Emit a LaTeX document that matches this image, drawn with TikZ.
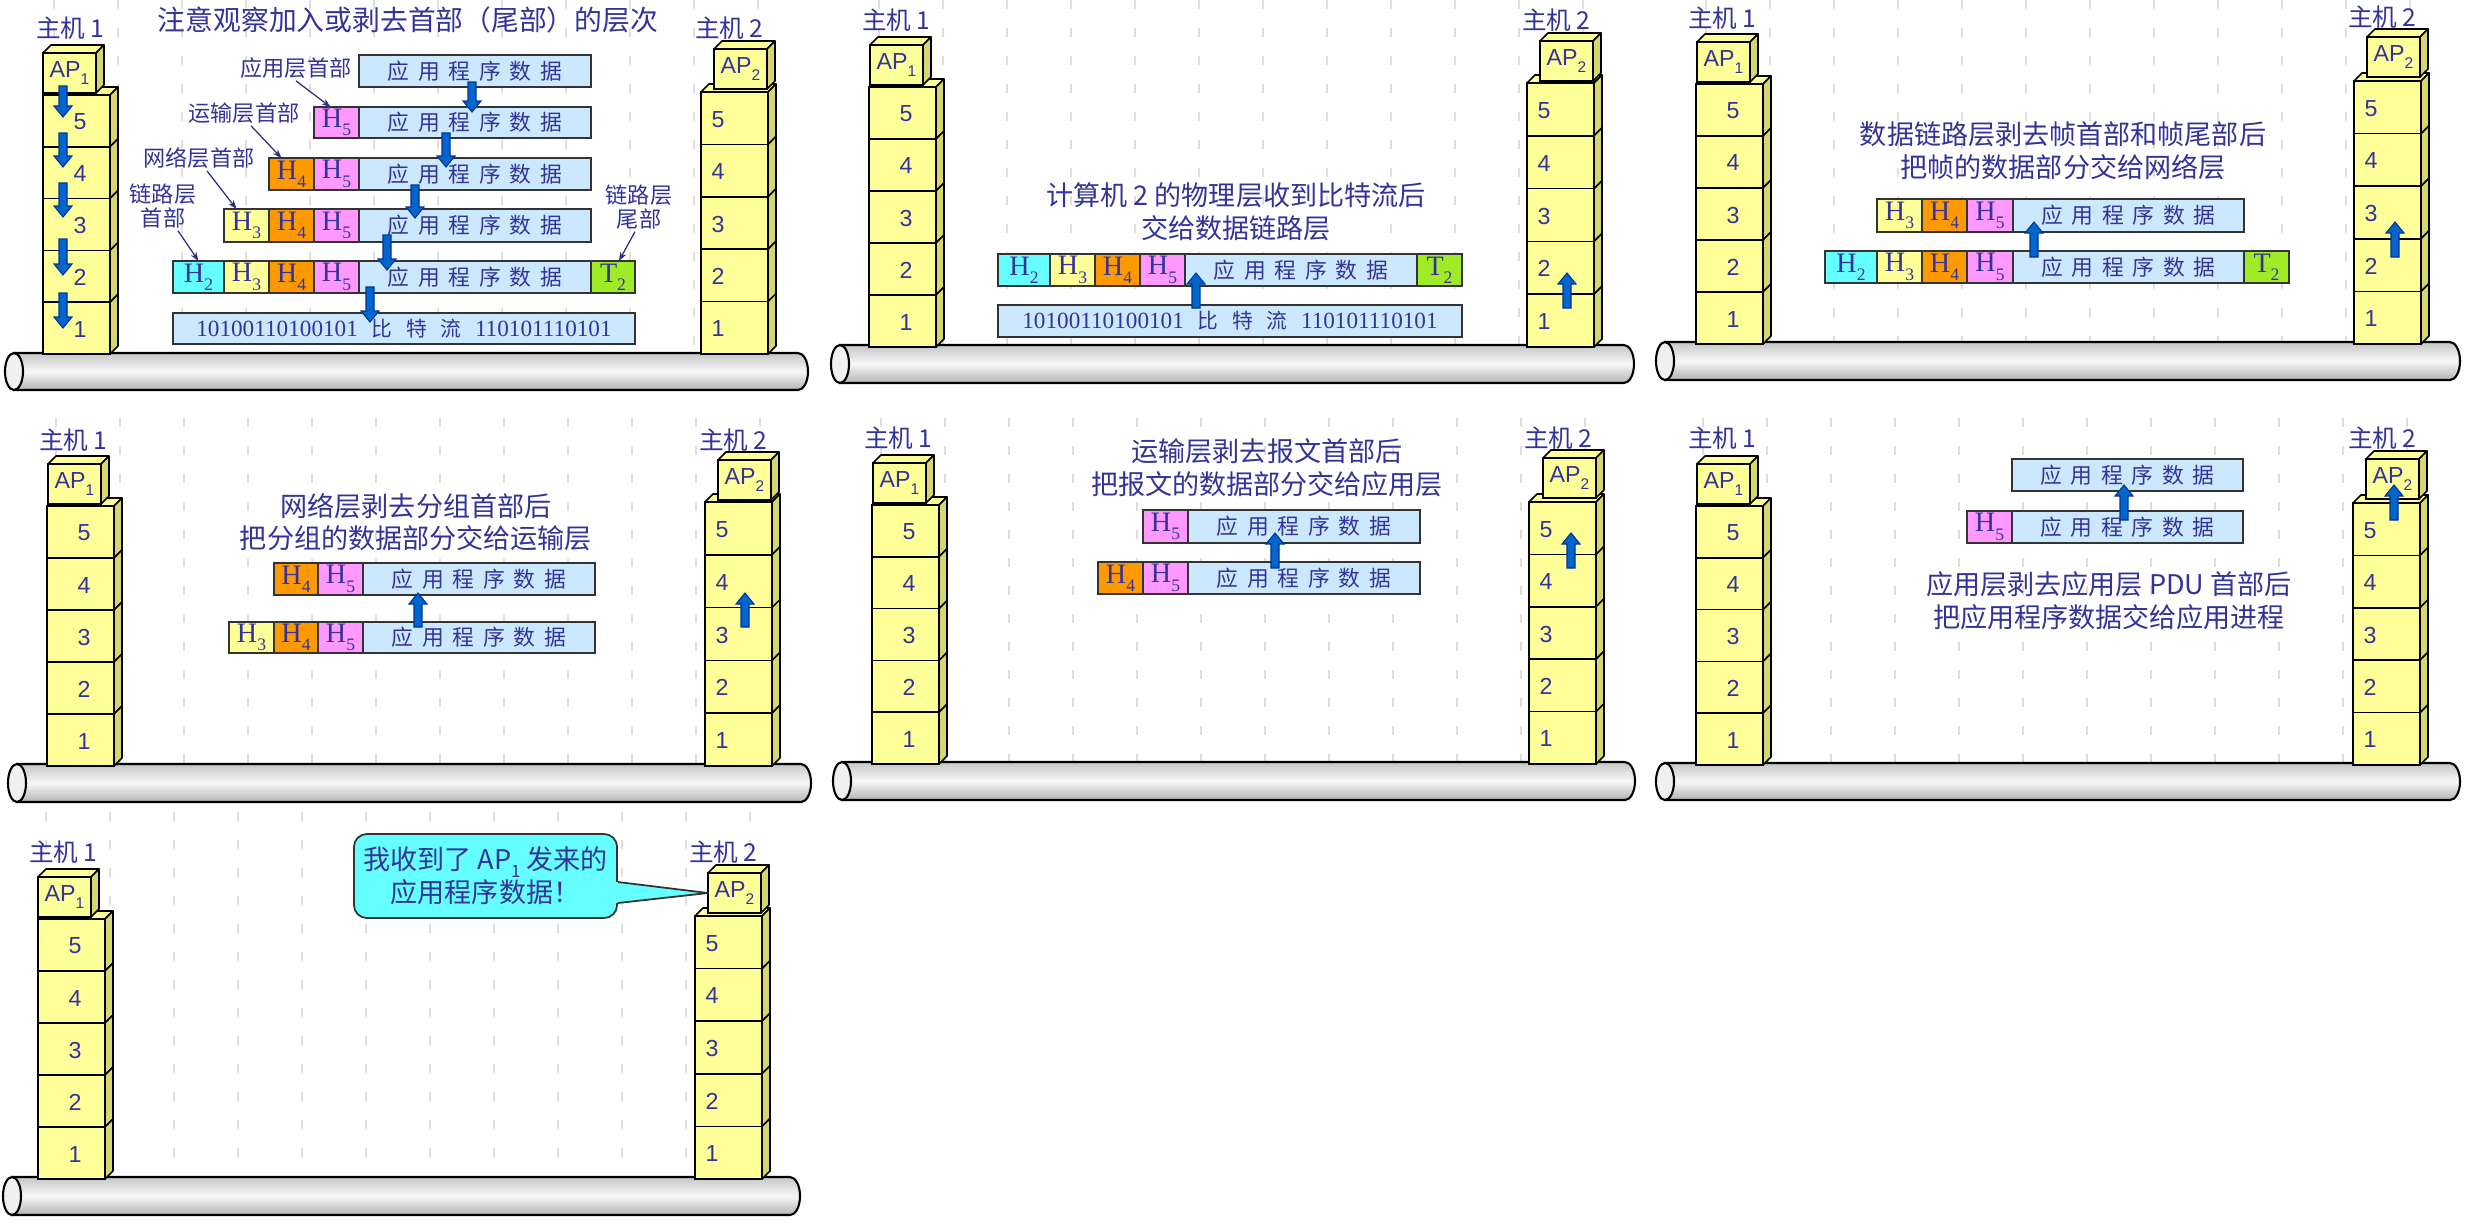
\documentclass[tikz,border=0pt]{standalone}
\usepackage{fontspec}
\setmainfont{Liberation Sans}
\newfontfamily\cjk{Noto Sans CJK SC}
\newfontfamily\tms{Liberation Serif}
\usetikzlibrary{calc,arrows.meta}

\definecolor{navy}{RGB}{51,51,153}
\definecolor{stackfront}{RGB}{255,255,153}
\definecolor{stackside}{RGB}{214,214,112}
\definecolor{datab}{RGB}{204,232,255}
\definecolor{hcyan}{RGB}{102,255,255}
\definecolor{hyel}{RGB}{255,255,153}
\definecolor{horange}{RGB}{255,153,0}
\definecolor{hpink}{RGB}{255,153,255}
\definecolor{tgreen}{RGB}{160,235,40}
\definecolor{arrowblue}{RGB}{0,102,204}
\definecolor{arrowedge}{RGB}{0,51,153}
\definecolor{bgline}{RGB}{222,222,222}

\newcommand{\fs}[1]{\fontsize{#1pt}{#1pt}\selectfont}
\newcommand{\Hd}[2]{{\tms\fs{8}#1\raisebox{-0.3em}{\fs{5}#2}}}
\newcommand{\APt}[1]{AP\raisebox{-0.3em}{\fs{4.4}#1}}
\newcommand{\cg}{\hspace{0.4em}}
\newcommand{\appdata}{{\cjk\fs{6.2}应\cg 用\cg 程\cg 序\cg 数\cg 据}}
\newcommand{\bitstr}{{\tms\fs{6.6}10100110100101\hspace{0.6em}{\cjk\fs{5.9}比\hspace{0.65em}特\hspace{0.65em}流}\hspace{0.6em}110101110101}}

\tikzset{
  stackedge/.style={draw=black,line width=0.45pt,line join=round},
  layerbox/.style={draw=black,line width=0.45pt,fill=stackfront,minimum width=6.7mm,inner sep=0pt,outer sep=0pt},
  layernum/.style={font=\fs{6.6},text=navy,inner sep=0pt},
  apbox/.style={draw=black,line width=0.45pt,fill=stackfront,minimum width=5.3mm,minimum height=4mm,inner sep=0pt,outer sep=0pt,font=\fs{6.6},text=navy},
  hostlbl/.style={font=\cjk\fs{7},text=navy,inner sep=0pt},
  cellbox/.style={draw=black!80,line width=0.4pt,inner sep=0pt,outer sep=0pt,text=navy},
  bigtxt/.style={font=\cjk\fontsize{7.7pt}{9.3pt}\selectfont,text=navy,align=center,inner sep=0pt},
  titletxt/.style={font=\cjk\fs{7.9},text=navy,inner sep=0pt},
  hdrlbl/.style={font=\cjk\fontsize{6.3pt}{6.8pt}\selectfont,text=navy,align=center,inner sep=0.5pt},
  lblarrow/.style={draw=navy!85!black,line width=0.35pt,-{Stealth[length=0.9mm,width=0.65mm]}},
  barrowst/.style={fill=arrowblue,draw=arrowedge,line width=0.3pt,line join=miter},
  bgdash/.style={draw=bgline,line width=0.45pt,dash pattern=on 0.9mm off 1.9mm},
  tubest/.style={top color=gray!45,bottom color=gray!60,middle color=gray!6,draw=black,line width=0.6pt},
  tubeend/.style={fill=gray!12,draw=black,line width=0.6pt},
  bubble/.style={fill=hcyan,draw=black!80,line width=0.5pt,rounded corners=1.3mm,minimum width=26.3mm,minimum height=8.4mm,align=center,font=\cjk\fontsize{7.7pt}{9.4pt}\selectfont,text=navy,inner sep=0pt}
}

\newcommand{\cell}[7]{\node[cellbox,fill=#6,minimum width={(#3-#2)*0.1mm},minimum height={(#5-#4)*0.1mm}] (#1) at ({(#2+#3)/2},{(#4+#5)/2}) {#7};}

\newcommand{\host}[8]{%
  \pgfmathsetmacro\hsH{(#4-#3)/5}%
  \pgfmathsetmacro\hsR{#2+67}%
  \filldraw[stackedge,fill=stackfront] (#2,#3) -- ++(8,-8) -- ({\hsR+8},{#3-8}) -- (\hsR,#3) -- cycle;
  \foreach \n in {5,4,3,2,1}{%
    \pgfmathsetmacro\lyA{#3+(5-\n)*\hsH}%
    \pgfmathsetmacro\lyB{\lyA+\hsH}%
    \filldraw[stackedge,fill=stackside] (\hsR,\lyA) -- ({\hsR+8},{\lyA-8}) -- ({\hsR+8},{\lyB-8}) -- (\hsR,\lyB) -- cycle;
    \node[layerbox,minimum height={\hsH*0.1mm}] (#1l\n) at ({#2+33.5},{(\lyA+\lyB)/2}) {};
    \node[layernum] (#1n\n) at ({#2+#8},{(\lyA+\lyB)/2+1}) {\n};
  }
  \filldraw[stackedge,fill=stackfront] (#5,#6) -- ++(8,-8) -- ++(53,0) -- ++(-8,8) -- cycle;
  \filldraw[stackedge,fill=stackside] ({#5+53},#6) -- ++(8,-8) -- ++(0,40) -- ++(-8,8) -- cycle;
  \node[apbox] (#1ap) at ({#5+26.5},{#6+20}) {\APt{#7}};
}

\newcommand{\tube}[4]{%
  \pgfmathsetmacro\tbR{(#4-#3)/2}%
  \pgfmathsetmacro\tbM{(#3+#4)/2}%
  \shadedraw[tubest] ({#1+9},#3) -- ({#2-10},#3) arc[start angle=90,end angle=-90,x radius=1mm,y radius={\tbR*0.1mm}] -- ({#1+9},#4) -- cycle;
  \filldraw[tubeend] ({#1+9},\tbM) ellipse [x radius=0.9mm, y radius={\tbR*0.1mm}];
}

\newcommand{\barrow}[3]{%
  \pgfmathsetmacro\hbase{#3+11*sign(#2-#3)}%
  \filldraw[barrowst] ({#1-4},#2) -- ({#1+4},#2) -- ({#1+4},\hbase) -- ({#1+9},\hbase) -- (#1,#3) -- ({#1-9},\hbase) -- ({#1-4},\hbase) -- cycle;
}

\newcommand{\bglines}[3]{\foreach \k in {-1,...,10}{\draw[bgdash] ({#1+64*\k},#2) -- ({#1+64*\k},#3);}}

\begin{document}
\begin{tikzpicture}[x=0.01cm,y=-0.01cm]
\useasboundingbox (0,0) rectangle (2469,1226);
\fill[white] (0,0) rectangle (2469,1226);

% background dashed lines
\bglines{118}{0}{352}
\bglines{943}{0}{345}
\bglines{1770}{0}{342}
\bglines{120}{418}{764}
\bglines{945}{418}{762}
\bglines{1767}{418}{763}
\bglines{110}{812}{1177}

% tubes
\tube{5}{808}{353}{390}
\tube{831}{1634}{345}{383}
\tube{1656}{2460}{342}{380}
\tube{8}{811}{764}{802}
\tube{833}{1635}{762}{800}
\tube{1656}{2460}{763}{800}
\tube{3}{800}{1177}{1215}

% hosts
\host{p1a}{43}{95}{354}{43}{53}{1}{37}
\host{p1b}{701}{92}{354}{714}{49}{2}{17}
\host{p2a}{869}{87}{347}{870}{45}{1}{37}
\host{p2b}{1527}{83}{347}{1540}{41}{2}{17}
\host{p3a}{1696}{84}{344}{1697}{42}{1}{37}
\host{p3b}{2354}{81}{344}{2367}{37}{2}{17}
\host{p4a}{47}{506}{766}{48}{464}{1}{37}
\host{p4b}{705}{502}{766}{718}{460}{2}{17}
\host{p5a}{872}{505}{764}{873}{463}{1}{37}
\host{p5b}{1529}{502}{764}{1543}{458}{2}{17}
\host{p6a}{1696}{506}{765}{1697}{464}{1}{37}
\host{p6b}{2353}{503}{765}{2366}{459}{2}{17}
\host{p7a}{38}{919}{1179}{38}{877}{1}{37}
\host{p7b}{695}{916}{1179}{708}{873}{2}{17}

% host labels
\node[hostlbl] (p1alab) at (70,28) {主机\hspace{0.2em}1};
\node[hostlbl] (p1blab) at (729,28) {主机\hspace{0.2em}2};
\node[hostlbl] (p2alab) at (896,20) {主机\hspace{0.2em}1};
\node[hostlbl] (p2blab) at (1556,20) {主机\hspace{0.2em}2};
\node[hostlbl] (p3alab) at (1722,18) {主机\hspace{0.2em}1};
\node[hostlbl] (p3blab) at (2382,17) {主机\hspace{0.2em}2};
\node[hostlbl] (p4alab) at (73,440) {主机\hspace{0.2em}1};
\node[hostlbl] (p4blab) at (733,440) {主机\hspace{0.2em}2};
\node[hostlbl] (p5alab) at (898,438) {主机\hspace{0.2em}1};
\node[hostlbl] (p5blab) at (1558,438) {主机\hspace{0.2em}2};
\node[hostlbl] (p6alab) at (1722,438) {主机\hspace{0.2em}1};
\node[hostlbl] (p6blab) at (2382,438) {主机\hspace{0.2em}2};
\node[hostlbl] (p7alab) at (63,852) {主机\hspace{0.2em}1};
\node[hostlbl] (p7blab) at (723,852) {主机\hspace{0.2em}2};

% ---------- panel 1 ----------
\node[titletxt] (p1title) at (408,20) {注意观察加入或剥去首部（尾部）的层次};
\cell{p1A}{359}{591}{55}{87}{datab}{\appdata}
\cell{p1B5}{314}{359}{107}{138}{hpink}{\Hd{H}{5}}
\cell{p1Bd}{359}{591}{107}{138}{datab}{\appdata}
\cell{p1C4}{269}{314}{158}{190}{horange}{\Hd{H}{4}}
\cell{p1C5}{314}{359}{158}{190}{hpink}{\Hd{H}{5}}
\cell{p1Cd}{359}{591}{158}{190}{datab}{\appdata}
\cell{p1D3}{224}{269}{209}{242}{hyel}{\Hd{H}{3}}
\cell{p1D4}{269}{314}{209}{242}{horange}{\Hd{H}{4}}
\cell{p1D5}{314}{359}{209}{242}{hpink}{\Hd{H}{5}}
\cell{p1Dd}{359}{591}{209}{242}{datab}{\appdata}
\cell{p1E2}{173}{224}{261}{293}{hcyan}{\Hd{H}{2}}
\cell{p1E3}{224}{269}{261}{293}{hyel}{\Hd{H}{3}}
\cell{p1E4}{269}{314}{261}{293}{horange}{\Hd{H}{4}}
\cell{p1E5}{314}{359}{261}{293}{hpink}{\Hd{H}{5}}
\cell{p1Ed}{359}{591}{261}{293}{datab}{\appdata}
\cell{p1ET}{591}{635}{261}{293}{tgreen}{\Hd{T}{2}}
\cell{p1bits}{173}{635}{313}{344}{datab}{\bitstr}

\node[hdrlbl] (p1la) at (296,68) {应用层首部};
\node[hdrlbl] (p1lb) at (244,113) {运输层首部};
\node[hdrlbl] (p1lc) at (199,158) {网络层首部};
\node[hdrlbl] (p1ld) at (163,206) {链路层\\首部};
\node[hdrlbl] (p1le) at (639,207) {链路层\\尾部};
\draw[lblarrow] (p1la.south) -- ($(p1B5.north)+(-6,0)$);
\draw[lblarrow] ($(p1lb.south)+(7,0)$) -- ($(p1C4.north)+(-10,0)$);
\draw[lblarrow] ($(p1lc.south)+(8,0)$) -- ($(p1D3.north)+(-10,0)$);
\draw[lblarrow] ($(p1ld.south)+(15,0)$) -- (p1E2.north);
\draw[lblarrow] ($(p1le.south)+(-4,0)$) -- ($(p1ET.north)+(6,0)$);

\barrow{472}{82}{112}
\barrow{446}{133}{167}
\barrow{415}{185}{218}
\barrow{387}{235}{270}
\barrow{370}{287}{322}
\barrow{63}{86}{117}
\barrow{63}{133}{167}
\barrow{63}{183}{217}
\barrow{63}{239}{275}
\barrow{63}{293}{328}

% ---------- panel 2 ----------
\node[bigtxt] (p2txt) at (1236,212) {计算机 2 的物理层收到比特流后\\交给数据链路层};
\cell{p2E2}{998}{1050}{254}{286}{hcyan}{\Hd{H}{2}}
\cell{p2E3}{1050}{1095}{254}{286}{hyel}{\Hd{H}{3}}
\cell{p2E4}{1095}{1140}{254}{286}{horange}{\Hd{H}{4}}
\cell{p2E5}{1140}{1185}{254}{286}{hpink}{\Hd{H}{5}}
\cell{p2Ed}{1185}{1417}{254}{286}{datab}{\appdata}
\cell{p2ET}{1417}{1462}{254}{286}{tgreen}{\Hd{T}{2}}
\cell{p2bits}{998}{1462}{305}{337}{datab}{\bitstr}
\barrow{1196}{308}{273}
\barrow{1567}{308}{273}

% ---------- panel 3 ----------
\node[bigtxt] (p3txt) at (2063,151) {数据链路层剥去帧首部和帧尾部后\\把帧的数据部分交给网络层};
\cell{p3D3}{1877}{1922}{199}{232}{hyel}{\Hd{H}{3}}
\cell{p3D4}{1922}{1967}{199}{232}{horange}{\Hd{H}{4}}
\cell{p3D5}{1967}{2013}{199}{232}{hpink}{\Hd{H}{5}}
\cell{p3Dd}{2013}{2244}{199}{232}{datab}{\appdata}
\cell{p3E2}{1825}{1877}{251}{283}{hcyan}{\Hd{H}{2}}
\cell{p3E3}{1877}{1922}{251}{283}{hyel}{\Hd{H}{3}}
\cell{p3E4}{1922}{1967}{251}{283}{horange}{\Hd{H}{4}}
\cell{p3E5}{1967}{2013}{251}{283}{hpink}{\Hd{H}{5}}
\cell{p3Ed}{2013}{2244}{251}{283}{datab}{\appdata}
\cell{p3ET}{2244}{2289}{251}{283}{tgreen}{\Hd{T}{2}}
\barrow{2034}{257}{222}
\barrow{2395}{257}{222}

% ---------- panel 4 ----------
\node[bigtxt] (p4txt) at (416,522) {网络层剥去分组首部后\\把分组的数据部分交给运输层};
\cell{p4C4}{274}{318}{563}{595}{horange}{\Hd{H}{4}}
\cell{p4C5}{318}{363}{563}{595}{hpink}{\Hd{H}{5}}
\cell{p4Cd}{363}{595}{563}{595}{datab}{\appdata}
\cell{p4D3}{229}{274}{622}{653}{hyel}{\Hd{H}{3}}
\cell{p4D4}{274}{318}{622}{653}{horange}{\Hd{H}{4}}
\cell{p4D5}{318}{363}{622}{653}{hpink}{\Hd{H}{5}}
\cell{p4Dd}{363}{595}{622}{653}{datab}{\appdata}
\barrow{418}{627}{593}
\barrow{745}{627}{593}

% ---------- panel 5 ----------
\node[bigtxt] (p5txt) at (1267,468) {运输层剥去报文首部后\\把报文的数据部分交给应用层};
\cell{p5B5}{1143}{1188}{510}{543}{hpink}{\Hd{H}{5}}
\cell{p5Bd}{1188}{1420}{510}{543}{datab}{\appdata}
\cell{p5C4}{1098}{1143}{562}{594}{horange}{\Hd{H}{4}}
\cell{p5C5}{1143}{1188}{562}{594}{hpink}{\Hd{H}{5}}
\cell{p5Cd}{1188}{1420}{562}{594}{datab}{\appdata}
\barrow{1275}{568}{533}
\barrow{1571}{568}{533}

% ---------- panel 6 ----------
\cell{p6A}{2012}{2243}{459}{491}{datab}{\appdata}
\cell{p6B5}{1967}{2012}{511}{543}{hpink}{\Hd{H}{5}}
\cell{p6Bd}{2012}{2243}{511}{543}{datab}{\appdata}
\node[bigtxt] (p6txt) at (2109,601) {应用层剥去应用层 PDU 首部后\\把应用程序数据交给应用进程};
\barrow{2124}{520}{485}
\barrow{2394}{520}{485}

% ---------- panel 7 ----------
\node[bubble] (p7bub) at (485.5,876) {我收到了 AP\raisebox{-0.3em}{\fs{4.8}1} 发来的\\应用程序数据！};
\fill[hcyan] ($(p7bub.east)+(-2,6)$) -- (p7bap.west) -- ($(p7bub.east)+(-2,27)$) -- cycle;
\draw[draw=black!80,line width=0.5pt,line join=round] ($(p7bub.east)+(0,6)$) -- (p7bap.west) -- ($(p7bub.east)+(0,27)$);
\end{tikzpicture}
\end{document}
